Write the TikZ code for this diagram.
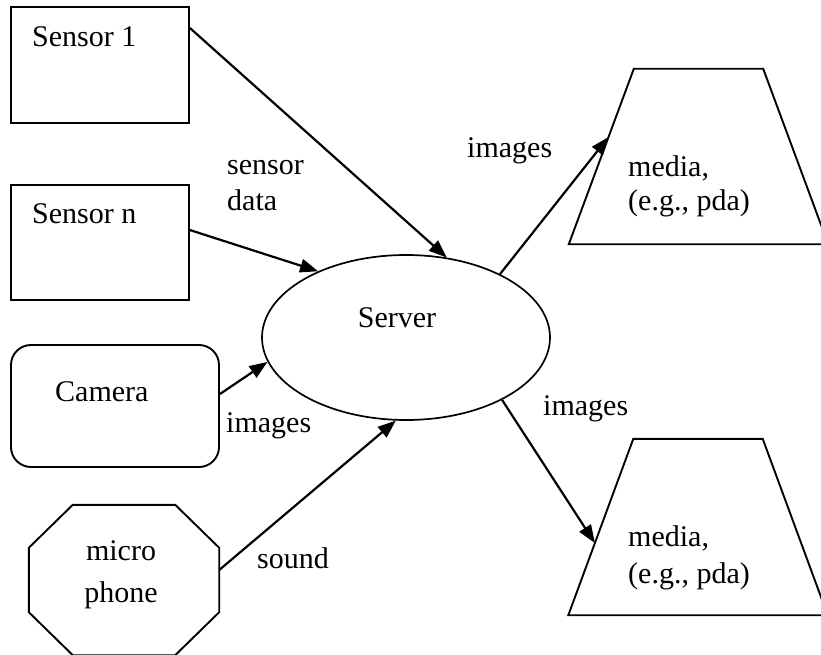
\documentclass[tikz,border=0pt]{standalone}
\usepackage{fontspec}
\setmainfont{Liberation Serif}
\usetikzlibrary{arrows.meta,calc,shapes.geometric}

\begin{document}
\begin{tikzpicture}[x=1pt,y=-1pt,
  txt/.style={font=\fontsize{30}{34}\selectfont, inner sep=0pt},
  outline/.style={draw, line width=1.9pt, line join=miter},
  hull/.style={draw=none, inner sep=0pt, minimum width=#1},
  srcbox/.style={outline, inner sep=0pt, minimum width=178pt},
  flow/.style={line width=2.2pt, -{Triangle[length=18pt,width=13.5pt]}}
]
\useasboundingbox (0,0) rectangle (821,655);

% sources
\node[srcbox, minimum height=116pt] (s1) at (100,65) {};
\node[srcbox, minimum height=115pt] (sn) at (100,242.5) {};
\node[outline, rounded corners=20pt, inner sep=0pt,
      minimum width=208pt, minimum height=122pt] (cam) at (115,406) {};
\node[hull=190pt, minimum height=150pt] (mic) at (124,580) {};
\draw[outline] ($(mic.north west)+(44,0)$) -- ($(mic.north east)+(-44,0)$)
  -- ($(mic.north east)+(0,43)$) -- ($(mic.south east)+(0,-43)$)
  -- ($(mic.south east)+(-44,0)$) -- ($(mic.south west)+(44,0)$)
  -- ($(mic.south west)+(0,-43)$) -- ($(mic.north west)+(0,43)$) -- cycle;

% server
\node[ellipse, draw, line width=1.7pt, inner sep=0pt,
      minimum width=288pt, minimum height=165pt] (server) at (406,337.5) {};

% media devices
\node[hull=259pt, minimum height=175pt] (m1) at (698.5,156.5) {};
\node[hull=259pt, minimum height=176pt] (m2) at (698,527) {};
\coordinate (m1tl) at ($(m1.north west)+(65,0)$);
\coordinate (m2tl) at ($(m2.north west)+(65,0)$);
\draw[outline] (m1.south west) -- (m1tl) -- ($(m1.north east)+(-65,0)$)
  -- (m1.south east) -- cycle;
\draw[outline] (m2.south west) -- (m2tl) -- ($(m2.north east)+(-65,0)$)
  -- (m2.south east) -- cycle;
\coordinate (m1in) at ($(m1.south west)!0.611!(m1tl)$);
\coordinate (m2in) at ($(m2.south west)!0.409!(m2tl)$);

% texts
\node[txt, anchor=base west] (t1) at (32,47) {Sensor 1};
\node[txt, anchor=base west] (tn) at (32,223) {Sensor n};
\node[txt, anchor=base west] (tc) at (55,401) {Camera};
\node[txt, anchor=base] (tm1) at (121,560) {micro};
\node[txt, anchor=base] (tm2) at (121,602) {phone};
\node[txt, anchor=base] (ts) at (397,327) {Server};
\node[txt, anchor=base west] (ta1) at (628,176) {media,};
\node[txt, anchor=base west] (ta2) at (628,210) {(e.g., pda)};
\node[txt, anchor=base west] (tb1) at (628,546) {media,};
\node[txt, anchor=base west] (tb2) at (628,583) {(e.g., pda)};

% connector labels
\node[txt, anchor=base west] (lsd1) at (227,175) {sensor};
\node[txt, anchor=base west] (lsd2) at (227,210) {data};
\node[txt, anchor=base west] (lim1) at (467,158) {images};
\node[txt, anchor=base west] (lim2) at (226,432) {images};
\node[txt, anchor=base west] (lim3) at (543,415) {images};
\node[txt, anchor=base west] (lsnd) at (257,568) {sound};

% flows
\draw[flow] ([yshift=-22pt]s1.north east) -- (server.63.6);
\draw[flow] ([yshift=-46pt]sn.north east) -- (server.143.8);
\draw[flow] ([yshift=12pt]cam.east) -- (server.190.7);
\draw[flow] ([yshift=10pt]mic.east) -- (server.263.8);
\draw[flow] (server.34.9) -- (m1in);
\draw[flow] (server.327.7) -- (m2in);
\end{tikzpicture}
\end{document}
